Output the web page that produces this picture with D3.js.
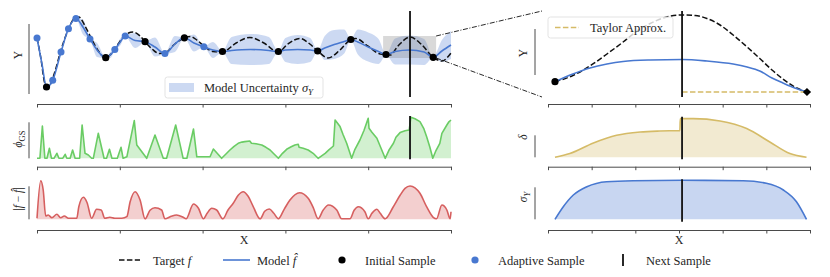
<!DOCTYPE html>
<html>
<head>
<meta charset="utf-8">
<script src="https://cdn.jsdelivr.net/npm/d3@7"></script>
<style>
body { margin: 0; background: #fff; }
svg text { font-family: "Liberation Serif", "Times New Roman", serif; fill: #262626; }
</style>
</head>
<body>
<div id="chart"></div>
<script>
// ---- data (left: full domain, right: zoomed window) ----
var targetLeft = [[0,5.2],[0.10,3.0],[0.17,1.0],[0.23,0.3],[0.31,0.5],[0.43,1.8],[0.58,4.0],[0.75,6.0],[0.89,7.1],[1.01,7.3],
    [1.16,6.4],[1.33,5.0],[1.50,3.8],[1.65,3.23],[1.79,3.6],[1.96,4.6],[2.13,5.5],[2.32,5.8],[2.49,5.4],[2.61,4.83],
    [2.78,4.1],[2.95,3.65],[3.09,3.7],[3.33,4.6],[3.56,5.22],[3.70,5.35],[3.86,5.0],[4.06,4.3],[4.25,3.85],[4.48,3.8],
    [4.81,4.7],[5.14,5.25],[5.48,4.7],[5.83,3.8],[6.06,4.6],[6.35,5.15],[6.59,4.6],[6.78,3.9],[7.03,3.2],[7.32,4.0],
    [7.58,5.05],[7.70,5.15],[7.99,4.4],[8.29,3.6],[8.53,3.5],[8.72,4.4],[9.01,5.3],[9.30,4.5],[9.57,3.27],[9.78,2.9],[10,3.7]];

// x, mean, sigma
var modelLeft = [[0,5.2,0.1],[0.12,2.6,0.2],[0.23,0.3,0.05],[0.38,0.97,0.05],[0.58,3.8,0.05],[0.76,6.13,0.05],[0.94,7.15,0.05],
    [1.11,6.3,0.75],[1.28,5.1,0.05],[1.45,4.0,0.7],[1.66,3.23,0.05],[1.77,3.5,0.3],[1.88,4.05,0.05],[2.01,4.8,0.35],
    [2.13,5.4,0.05],[2.37,4.95,0.75],[2.61,4.83,0.05],[2.85,4.3,0.95],[3.09,3.65,0.05],[3.33,4.6,0.8],[3.56,5.22,0.05],
    [3.79,4.7,0.85],[4.03,4.32,0.05],[4.25,4.0,0.8],[4.48,3.85,0.05],[4.70,3.95,1.35],[5.15,4.05,1.55],[5.60,3.95,1.35],
    [5.83,3.85,0.05],[6.0,4.0,1.2],[6.30,4.05,1.45],[6.60,4.0,1.2],[6.78,3.9,0.05],[6.95,4.2,1.2],[7.18,4.55,1.45],
    [7.42,4.85,1.2],[7.58,5.05,0.05],[7.75,4.8,1.25],[8.0,4.3,1.45],[8.25,3.85,1.25],[8.43,3.55,0.05],[8.65,3.85,1.3],
    [9.0,4.0,1.45],[9.35,3.8,1.3],[9.57,3.27,0.05],[9.78,3.9,1.1],[10,4.5,1.4]];

var initialSamples = [[0.23,0.3],[1.66,3.23],[2.61,4.83],[3.56,5.22],[4.48,3.85],[5.83,3.85],[6.78,3.9],[7.58,5.05],[8.43,3.55],[9.57,3.27]];
var adaptiveSamples = [[0,5.2],[0.38,0.97],[0.58,3.8],[0.76,6.13],[0.94,7.15],[1.28,5.1],[1.88,4.05],[2.13,5.4],[3.09,3.65],[4.03,4.32]];
var nextSampleLeft = 9.01;

var phiGS = [[0,0],[0.07,0],[0.13,3.23],[0.19,0],[0.24,0],[0.30,1.0],[0.35,0],[0.41,0],[0.48,0.5],[0.53,0],[0.62,0],[0.68,0.4],
    [0.72,0],[0.80,0],[0.86,0.83],[0.92,0],[1.03,0],[1.09,3.33],[1.16,0.5],[1.24,0.33],[1.32,0],[1.36,0],[1.48,2.5],[1.62,0],
    [1.68,0],[1.75,0.9],[1.81,0],[1.94,0],[2.03,1.1],[2.08,0],[2.17,0.15],[2.35,3.77],[2.41,1.33],[2.65,0],[2.85,2.33],[3.05,0],
    [3.13,0],[3.35,3.33],[3.53,0],[3.62,0],[3.78,2.93],[3.86,0.15],[4.18,0.15],[4.26,0.93],[4.46,0],[4.57,0.45],[4.66,0.83],
    [4.76,1.2],[4.86,1.5],[4.95,1.62],[5.02,1.67],[5.14,1.73],[5.18,1.5],[5.29,1.45],[5.43,1.33],[5.53,1.1],[5.63,0.83],
    [5.72,0.45],[5.83,0],[5.93,0.5],[6.03,0.9],[6.14,1.15],[6.23,1.33],[6.31,1.4],[6.33,1.1],[6.43,1.0],[6.55,0.83],[6.67,0.5],
    [6.79,0],[6.96,0.5],[7.05,0.85],[7.16,1.23],[7.20,3.83],[7.32,3.17],[7.39,2.4],[7.48,1.5],[7.60,0],[7.68,0.9],[7.80,1.83],
    [7.90,2.8],[8.00,4.0],[8.02,3.0],[8.09,2.6],[8.21,2.0],[8.31,1.0],[8.41,0],[8.50,0.8],[8.61,1.5],[8.67,2.1],[8.77,2.57],
    [8.89,2.75],[8.99,2.83],[9.03,4.1],[9.13,3.95],[9.25,3.67],[9.34,3.0],[9.41,2.17],[9.49,1.1],[9.56,0],[9.64,0.8],[9.73,1.5],
    [9.78,2.5],[9.90,3.33],[9.95,3.65],[10,3.83]];

var absError = [[0,0.1],[0.09,3.86],[0.15,2.93],[0.21,0.33],[0.27,0.43],[0.36,0.16],[0.48,0.5],[0.57,0.16],[0.66,0.33],[0.76,0.1],
    [0.96,0.1],[1.01,1.26],[1.12,2.2],[1.21,1.66],[1.32,0.1],[1.44,1.0],[1.55,0.93],[1.64,0.1],[1.76,0.2],[1.88,0.1],[2.05,0.1],
    [2.17,0.26],[2.25,1.76],[2.37,2.76],[2.49,1.93],[2.61,0.05],[2.73,0.9],[2.85,1.16],[3.01,0.93],[3.09,0.05],[3.24,0.3],
    [3.37,0.43],[3.53,0.2],[3.60,0.05],[3.78,1.53],[3.90,1.1],[4.02,0.05],[4.11,0.6],[4.22,1.1],[4.34,0.93],[4.49,0.05],
    [4.61,0.9],[4.74,1.6],[4.86,2.4],[4.98,2.76],[5.10,2.3],[5.22,1.3],[5.39,0.05],[5.50,0.8],[5.61,1.03],[5.72,0.6],[5.83,0.05],
    [5.97,1.0],[6.11,1.93],[6.34,2.66],[6.55,2.1],[6.67,1.2],[6.79,0.05],[6.91,0.9],[7.04,1.43],[7.24,0.93],[7.36,0.05],
    [7.56,0.05],[7.66,0.9],[7.76,1.26],[7.92,0.76],[8.00,0.05],[8.09,0.6],[8.21,1.0],[8.29,0.6],[8.41,0.05],[8.60,1.2],[8.77,2.4],
    [8.89,3.1],[9.01,3.33],[9.13,3.15],[9.25,2.6],[9.41,1.26],[9.57,0.2],[9.65,0.05],[9.78,1.43],[9.90,0.93],[9.98,0.05],[10,0.76]];

var targetRight = [[0.16,1.53],[0.57,2.15],[0.96,3.1],[1.35,4.3],[1.72,5.5],[2.04,6.6],[2.34,7.35],[2.68,7.95],[3.07,8.2],
    [3.37,8.15],[3.64,7.85],[3.94,7.2],[4.24,6.2],[4.56,5.0],[4.85,3.85],[5.13,2.7],[5.38,1.8],[5.65,1.0],[5.93,0.5]];
var modelRight = [[0.16,1.53],[0.57,2.3],[0.96,2.9],[1.35,3.3],[1.72,3.55],[2.34,3.7],[3.07,3.75],[3.64,3.6],[4.24,3.3],
    [4.56,3.0],[4.85,2.6],[5.13,1.9],[5.38,1.4],[5.65,0.9],[5.93,0.5]];
var taylorRight = [[3.07,0.5],[5.93,0.5]];
var startRight = [[0.16,1.53]];
var expansionRight = [[5.93,0.5]];
var nextSampleRight = 3.07;

var deltaRight = [[0.16,0],[0.5,0.37],[1.04,1.43],[1.57,2.2],[2.11,2.53],[2.56,2.63],[3.02,2.67],[3.03,3.87],[3.33,3.87],
    [3.94,3.63],[4.55,2.87],[5.08,1.53],[5.54,0.37],[5.92,0]];
var sigmaRight = [[0.16,0],[0.35,1.26],[0.58,2.43],[0.89,3.26],[1.34,3.76],[1.95,3.86],[3.08,3.9],[4.47,3.86],[5.0,3.6],
    [5.39,2.93],[5.69,1.76],[5.92,0]];

var leftTicks = [0, 2, 4, 6, 8, 10];
var rightTicks = [0, 1, 2, 3, 4, 5, 6];
var zoomWindow = [[8.36, 9.64], [3.2, 5.4]];

// ---- colours (seaborn muted) ----
var blue = "#4878d0", green = "#6acc64", red = "#d65f5f", gold = "#d5bb67", ink = "#262626", spine = "#4a4a4a";

var svg = d3.select("#chart").append("svg").attr("width", 830).attr("height", 277);

// scales
var xL = d3.scaleLinear().domain([0, 10]).range([37, 451]);
var xR = d3.scaleLinear().domain([0, 6]).range([548, 810]);
var yTopL = d3.scaleLinear().domain([-0.7, 7.9]).range([97, 11]);
var yTopR = d3.scaleLinear().domain([0, 8.6]).range([97, 11]);
var yPhi = d3.scaleLinear().domain([-0.1, 4.23]).range([159.3, 116]);
var yErr = d3.scaleLinear().domain([-0.24, 4.0]).range([221.7, 179.3]);
var yDelta = d3.scaleLinear().domain([-0.2, 4.06]).range([159.3, 116.7]);
var ySig = d3.scaleLinear().domain([-0.24, 4.0]).range([221.7, 179.3]);

var lineOf = function (x, y, curve) {
    return d3.line().x(function (d) { return x(d[0]); }).y(function (d) { return y(d[1]); }).curve(curve || d3.curveMonotoneX);
}
var areaOf = function (x, y, curve) {
    return d3.area().x(function (d) { return x(d[0]); }).y0(y(0)).y1(function (d) { return y(d[1]); }).curve(curve || d3.curveMonotoneX);
}

var bottomAxis = function (x, ticks, yPos) {
    var g = svg.append("g").attr("transform", "translate(0," + yPos + ")")
        .call(d3.axisBottom(x).tickValues(ticks).tickFormat("").tickSize(3.5).tickSizeOuter(0));
    g.select(".domain").attr("stroke", spine).attr("stroke-width", 1);
    g.selectAll(".tick line").attr("stroke", spine).attr("stroke-width", 1);
}
var leftSpine = function (xPos, y, lo, hi) {
    svg.append("line").attr("x1", xPos).attr("x2", xPos).attr("y1", y(lo)).attr("y2", y(hi))
        .attr("stroke", spine).attr("stroke-width", 1);
}
var vLabel = function (xPos, yPos, build) {
    var t = svg.append("text").attr("transform", "translate(" + xPos + "," + yPos + ") rotate(-90)")
        .attr("text-anchor", "middle").attr("font-size", 11.5);
    build(t);
}
var nextLine = function (x, xv, y) {
    svg.append("line").attr("x1", x(xv)).attr("x2", x(xv)).attr("y1", y.range()[0]).attr("y2", y.range()[1])
        .attr("stroke", "#111").attr("stroke-width", 1.8);
}
var dots = function (x, y, pts, fill, r) {
    svg.append("g").selectAll("circle").data(pts).join("circle")
        .attr("cx", function (d) { return x(d[0]); }).attr("cy", function (d) { return y(d[1]); })
        .attr("r", r).attr("fill", fill);
}

//----------------- left top: target, model, uncertainty -----------------
svg.append("path").datum(modelLeft)
    .attr("d", d3.area().x(function (d) { return xL(d[0]); })
        .y0(function (d) { return yTopL(d[1] - d[2]); })
        .y1(function (d) { return yTopL(d[1] + d[2]); }).curve(d3.curveMonotoneX))
    .attr("fill", blue).attr("fill-opacity", 0.28);

// zoom window
svg.append("rect").attr("x", xL(zoomWindow[0][0])).attr("y", yTopL(zoomWindow[1][1]))
    .attr("width", xL(zoomWindow[0][1]) - xL(zoomWindow[0][0]))
    .attr("height", yTopL(zoomWindow[1][0]) - yTopL(zoomWindow[1][1]))
    .attr("fill", "#808080").attr("fill-opacity", 0.3);

svg.append("path").datum(targetLeft).attr("d", lineOf(xL, yTopL)).attr("fill", "none")
    .attr("stroke", "#111").attr("stroke-width", 1.5).attr("stroke-dasharray", "5.5,2.4");
svg.append("path").datum(modelLeft).attr("d", lineOf(xL, yTopL)).attr("fill", "none")
    .attr("stroke", blue).attr("stroke-width", 1.6);
nextLine(xL, nextSampleLeft, yTopL);
dots(xL, yTopL, adaptiveSamples, blue, 3.5);
dots(xL, yTopL, initialSamples, "#000", 3.6);

// connectors to the zoomed axes
[[zoomWindow[1][1], yTopR.range()[1]], [zoomWindow[1][0], yTopR.range()[0]]].forEach(function (c) {
    svg.append("line").attr("x1", xL(zoomWindow[0][1])).attr("y1", yTopL(c[0]))
        .attr("x2", 542).attr("y2", c[1])
        .attr("stroke", "#111").attr("stroke-width", 0.9).attr("stroke-dasharray", "5,1.6,1,1.6");
});

// uncertainty legend
var lg = svg.append("g").attr("transform", "translate(165,77)");
lg.append("rect").attr("width", 158).attr("height", 21).attr("rx", 2.5)
    .attr("fill", "#fff").attr("fill-opacity", 0.8).attr("stroke", "#dcdcdc").attr("stroke-width", 0.8);
lg.append("rect").attr("x", 4).attr("y", 6).attr("width", 25).attr("height", 9).attr("fill", blue).attr("fill-opacity", 0.28);
var lgt = lg.append("text").attr("x", 39).attr("y", 15).attr("font-size", 12.5);
lgt.append("tspan").text("Model Uncertainty ");
lgt.append("tspan").attr("font-style", "italic").text("σ");
lgt.append("tspan").attr("font-style", "italic").attr("font-size", 9).attr("dy", 2.5).text("Y");

bottomAxis(xL, leftTicks, 104);
leftSpine(29, yTopL, -0.4, 6.6);
vLabel(22, 55, function (t) { t.text("Y"); });

//----------------- left middle: phi_GS -----------------
svg.append("path").datum(phiGS).attr("d", areaOf(xL, yPhi, d3.curveLinear)).attr("fill", green).attr("fill-opacity", 0.3);
svg.append("path").datum(phiGS).attr("d", lineOf(xL, yPhi, d3.curveLinear)).attr("fill", "none")
    .attr("stroke", green).attr("stroke-width", 1.6).attr("stroke-linejoin", "round");
nextLine(xL, nextSampleLeft, yPhi);
bottomAxis(xL, leftTicks, 166.7);
leftSpine(29, yPhi, 0, 3.6);
vLabel(22, 139, function (t) {
    t.append("tspan").attr("font-style", "italic").text("ϕ");
    t.append("tspan").attr("font-size", 8.5).attr("dy", 2.5).text("GS");
});

//----------------- left bottom: |f - fhat| -----------------
svg.append("path").datum(absError).attr("d", areaOf(xL, yErr)).attr("fill", red).attr("fill-opacity", 0.3);
svg.append("path").datum(absError).attr("d", lineOf(xL, yErr)).attr("fill", "none")
    .attr("stroke", red).attr("stroke-width", 1.6);
bottomAxis(xL, leftTicks, 230);
leftSpine(29, yErr, 0, 3.3);
vLabel(22, 199, function (t) {
    t.append("tspan").text("|");
    t.append("tspan").attr("font-style", "italic").text("f");
    t.append("tspan").text(" − ");
    t.append("tspan").attr("font-style", "italic").text("f\u0302");
    t.append("tspan").text("|");
});
svg.append("text").attr("x", xL(5)).attr("y", 244).attr("text-anchor", "middle").attr("font-size", 12).text("X");

//----------------- right top: zoomed view -----------------
svg.append("path").datum(targetRight).attr("d", lineOf(xR, yTopR)).attr("fill", "none")
    .attr("stroke", "#111").attr("stroke-width", 1.5).attr("stroke-dasharray", "5.5,2.4");
svg.append("path").datum(modelRight).attr("d", lineOf(xR, yTopR)).attr("fill", "none")
    .attr("stroke", blue).attr("stroke-width", 1.6);
svg.append("path").datum(taylorRight).attr("d", lineOf(xR, yTopR, d3.curveLinear)).attr("fill", "none")
    .attr("stroke", gold).attr("stroke-width", 1.5).attr("stroke-dasharray", "5.5,2.4");
nextLine(xR, nextSampleRight, yTopR);
dots(xR, yTopR, startRight, "#000", 3.6);
svg.append("g").selectAll("path").data(expansionRight).join("path")
    .attr("transform", function (d) { return "translate(" + xR(d[0]) + "," + yTopR(d[1]) + ") rotate(45)"; })
    .attr("d", d3.symbol(d3.symbolSquare, 34)).attr("fill", "#000");

var rg = svg.append("g").attr("transform", "translate(548,17)");
rg.append("rect").attr("width", 125).attr("height", 21).attr("rx", 2.5)
    .attr("fill", "#fff").attr("fill-opacity", 0.8).attr("stroke", "#dcdcdc").attr("stroke-width", 0.8);
rg.append("line").attr("x1", 7).attr("x2", 31).attr("y1", 10.5).attr("y2", 10.5)
    .attr("stroke", gold).attr("stroke-width", 1.5).attr("stroke-dasharray", "5.5,2.4");
rg.append("text").attr("x", 42).attr("y", 14.5).attr("font-size", 12.5).text("Taylor Approx.");

bottomAxis(xR, rightTicks, 104);
leftSpine(535, yTopR, 2.2, 6.8);
vLabel(527, 53, function (t) { t.text("Y"); });

//----------------- right middle: delta -----------------
svg.append("path").datum(deltaRight).attr("d", areaOf(xR, yDelta)).attr("fill", gold).attr("fill-opacity", 0.3);
svg.append("path").datum(deltaRight).attr("d", lineOf(xR, yDelta)).attr("fill", "none")
    .attr("stroke", gold).attr("stroke-width", 1.6);
nextLine(xR, nextSampleRight, yDelta);
bottomAxis(xR, rightTicks, 166.7);
leftSpine(535, yDelta, 0, 2.2);
vLabel(527, 137, function (t) { t.append("tspan").attr("font-style", "italic").text("δ"); });

//----------------- right bottom: sigma_Y -----------------
svg.append("path").datum(sigmaRight).attr("d", areaOf(xR, ySig)).attr("fill", blue).attr("fill-opacity", 0.3);
svg.append("path").datum(sigmaRight).attr("d", lineOf(xR, ySig)).attr("fill", "none")
    .attr("stroke", blue).attr("stroke-width", 1.6);
nextLine(xR, nextSampleRight, ySig);
bottomAxis(xR, rightTicks, 230);
leftSpine(535, ySig, 0, 3.2);
vLabel(527, 197, function (t) {
    t.append("tspan").attr("font-style", "italic").text("σ");
    t.append("tspan").attr("font-style", "italic").attr("font-size", 8.5).attr("dy", 2.5).text("Y");
});
svg.append("text").attr("x", xR(3)).attr("y", 244).attr("text-anchor", "middle").attr("font-size", 12).text("X");

//----------------- shared legend -----------------
var legendLeft = [119, 223, 331, 464, 612];
var legendY = 260;
var leg = svg.append("g");
leg.append("line").attr("x1", legendLeft[0]).attr("x2", legendLeft[0] + 21).attr("y1", legendY).attr("y2", legendY)
    .attr("stroke", "#111").attr("stroke-width", 1.5).attr("stroke-dasharray", "5.5,2.4");
leg.append("line").attr("x1", legendLeft[1]).attr("x2", legendLeft[1] + 27).attr("y1", legendY).attr("y2", legendY)
    .attr("stroke", blue).attr("stroke-width", 1.6);
leg.append("circle").attr("cx", legendLeft[2] + 11).attr("cy", legendY).attr("r", 3.6).attr("fill", "#000");
leg.append("circle").attr("cx", legendLeft[3] + 11).attr("cy", legendY).attr("r", 3.6).attr("fill", blue);
leg.append("line").attr("x1", legendLeft[4] + 11).attr("x2", legendLeft[4] + 11).attr("y1", legendY - 6).attr("y2", legendY + 6)
    .attr("stroke", "#111").attr("stroke-width", 1.8);

var legText = function (i) {
    return leg.append("text").attr("x", legendLeft[i] + 34).attr("y", legendY + 4.5).attr("font-size", 12.5);
}
var t0 = legText(0); t0.append("tspan").text("Target "); t0.append("tspan").attr("font-style", "italic").text("f");
var t1 = legText(1); t1.append("tspan").text("Model "); t1.append("tspan").attr("font-style", "italic").text("f\u0302");
legText(2).text("Initial Sample");
legText(3).text("Adaptive Sample");
legText(4).text("Next Sample");
</script>
</body>
</html>
